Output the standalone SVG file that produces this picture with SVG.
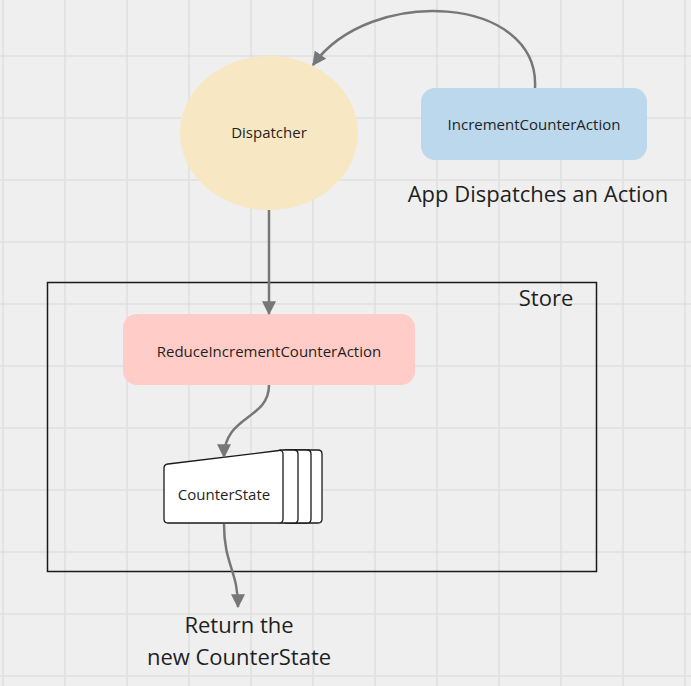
<svg xmlns="http://www.w3.org/2000/svg" width="691" height="686" viewBox="0 0 691 686">
<defs>
<style>
.grid{stroke:#e0e0e0;stroke-width:1.5}
.lbl{font-family:"Open Sans","Noto Sans",sans-serif;fill:#1f1f1f;text-anchor:middle;dominant-baseline:central}
.sm{font-size:15px}
.lg{font-size:22px}
.conn{fill:none;stroke:#777;stroke-width:2.5}
.card{fill:#fff;stroke:#1a1a1a;stroke-width:1.3}
</style>
<marker id="arrow" viewBox="0 0 12 12" refX="11" refY="6" markerWidth="14" markerHeight="14" markerUnits="userSpaceOnUse" orient="auto">
<path d="M0,0 L12,6 L0,12 z" fill="#777"/>
</marker>
</defs>
<rect width="691" height="686" fill="#efefef"/>
<g id="grid">
<path class="grid" d="M3,0V686M65,0V686M127,0V686M189,0V686M251,0V686M313,0V686M375,0V686M437,0V686M499,0V686M561,0V686M623,0V686M685,0V686"/>
<path class="grid" d="M0,56H691M0,118H691M0,180H691M0,242H691M0,304H691M0,366H691M0,428H691M0,490H691M0,552H691M0,614H691M0,676H691"/>
</g>
<g id="store">
<rect x="47.5" y="282.5" width="549" height="289" fill="none" stroke="#1a1a1a" stroke-width="1.5"/>
<text class="lbl lg" x="546" y="297">Store</text>
</g>
<g id="dispatcher">
<ellipse cx="269" cy="133" rx="89" ry="77" fill="#f7e8c3"/>
<text class="lbl sm" x="269" y="132">Dispatcher</text>
</g>
<g id="incrementCounterAction">
<rect x="421" y="88" width="226" height="72" rx="14" fill="#bcd8ec"/>
<text class="lbl sm" x="534" y="124">IncrementCounterAction</text>
</g>
<g id="appDispatchesLabel">
<text class="lbl lg" x="538" y="193">App Dispatches an Action</text>
</g>
<g id="reduceIncrementCounterAction">
<rect x="123" y="314" width="292" height="71" rx="14" fill="#ffccc7"/>
<text class="lbl sm" x="269" y="351">ReduceIncrementCounterAction</text>
</g>
<g id="counterState">
<path class="card" d="M290,450 L318,450 Q322,450 322,454 L322,519 Q322,523 318,523 L290,523 z"/>
<path class="card" d="M285,450 L307,450 Q311,450 311,454 L311,519 Q311,523 307,523 L285,523 z"/>
<path class="card" d="M280,450 L294,450 Q298,450 298,454 L298,519 Q298,523 294,523 L280,523 z"/>
<path class="card" d="M168,464 L279,450.5 Q283,450 283,454 L283,519 Q283,523 279,523 L168,523 Q164,523 164,519 L164,468 Q164,464.5 168,464 z"/>
<text class="lbl sm" x="224" y="494">CounterState</text>
</g>
<g id="returnLabel">
<text class="lbl lg" x="239" y="624">Return the</text>
<text class="lbl lg" x="239" y="656">new CounterState</text>
</g>
<g id="connectors">
<path class="conn" marker-end="url(#arrow)" d="M535,88 C540,-5 370,-15 313,65"/>
<path class="conn" marker-end="url(#arrow)" d="M269,210 L269,314"/>
<path class="conn" marker-end="url(#arrow)" d="M269,385 C269,420 224,415 224,457"/>
<path class="conn" marker-end="url(#arrow)" d="M224,524 C224,565 238,570 238,607"/>
</g>
</svg>
